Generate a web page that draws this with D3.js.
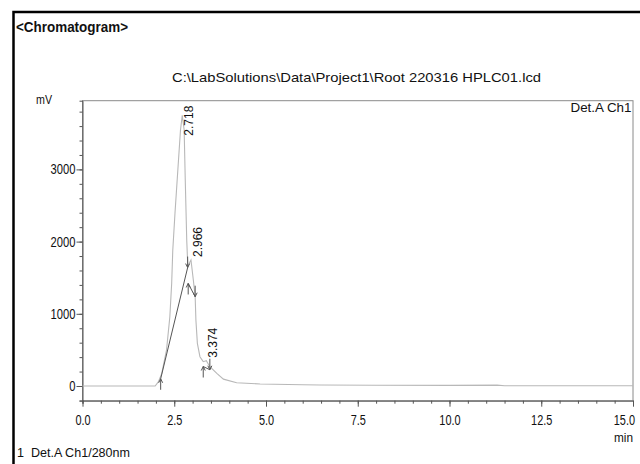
<!DOCTYPE html>
<html>
<head>
<meta charset="utf-8">
<script src="https://cdn.jsdelivr.net/npm/d3@7"></script>
<style>
  body { margin: 0; background: #fff; }
  text { font-family: "Liberation Sans", Arial, sans-serif; fill: #111; }
</style>
</head>
<body>
<div id="graph"></div>
<script>
// chromatogram trace (min, mV)
const times = [0, 1.0, 1.98, 2.07, 2.16, 2.29, 2.38, 2.43, 2.46, 2.52, 2.61, 2.67, 2.718,
  2.77, 2.80, 2.84, 2.87, 2.91, 2.956, 3.02, 3.07, 3.09, 3.13, 3.20, 3.29, 3.374,
  3.47, 3.66, 3.84, 4.2, 4.84, 6.0, 6.47, 8.0, 10.0, 11.3, 11.5, 13.0, 15.0];
const signal = [0, 0, 0, 60, 175, 500, 960, 1422, 1884, 2392, 3085, 3546, 3750,
  3546, 2853, 2022, 1652, 1700, 1745, 1468, 1237, 914, 591, 406, 337, 350,
  267, 175, 95, 45, 28, 18, 14, 10, 8, 12, 4, 3, 3];

// detected peaks
const peakTimes = [2.718, 2.966, 3.374];
const peakHeights = [3750, 1745, 350];
const peakLabels = ["2.718", "2.966", "3.374"];

// integration baselines: start / end of each peak
const startTimes = [2.13, 2.88, 3.29];
const startValues = [100, 1420, 270];
const endTimes = [2.865, 3.07, 3.47];
const endValues = [1640, 1237, 225];

const xTicks = [0, 2.5, 5, 7.5, 10, 12.5, 15];
const yTicks = [0, 1000, 2000, 3000];

const width = 640, height = 464;
const svg = d3.select("#graph").append("svg")
  .attr("width", width)
  .attr("height", height);

// squeeze text horizontally, the report font is a narrow one
function condense(sel, f) {
  sel.each(function() {
    const w = this.getComputedTextLength();
    d3.select(this).attr("textLength", w * f).attr("lengthAdjust", "spacingAndGlyphs");
  });
}
function fit(sel, w) {
  sel.attr("textLength", w).attr("lengthAdjust", "spacingAndGlyphs");
}

// outer frame (open to the right and bottom)
svg.append("path")
  .attr("d", "M13.5,464V12H640")
  .attr("fill", "none")
  .attr("stroke", "#000")
  .attr("stroke-width", 2.5);

svg.append("text")
  .attr("x", 16).attr("y", 32)
  .attr("font-size", 15.5)
  .attr("font-weight", "bold")
  .call(fit, 112)
  .text("<Chromatogram>");

svg.append("text")
  .attr("x", 172).attr("y", 82)
  .attr("font-size", 13.5)
  .call(fit, 369)
  .text("C:\\LabSolutions\\Data\\Project1\\Root 220316 HPLC01.lcd");

// scales
const x = d3.scaleLinear().domain([0, 15]).range([82.5, 633]);
const y = d3.scaleLinear().domain([-203.6, 3951.5]).range([400.7, 100.7]);

// plot frame
svg.append("rect")
  .attr("x", x(0)).attr("y", y.range()[1])
  .attr("width", x(15) - x(0))
  .attr("height", y.range()[0] - y.range()[1])
  .attr("fill", "none")
  .attr("stroke", "#8a8a8a")
  .attr("stroke-width", 1);

// y axis
const yMinor = d3.range(-200, 3900, 200);
svg.append("g")
  .attr("transform", "translate(" + x(0) + ",0)")
  .call(d3.axisLeft(y).tickValues(yMinor).tickSize(3).tickFormat(""))
  .call(g => g.select(".domain").attr("stroke", "#555"))
  .call(g => g.selectAll("line").attr("stroke", "#555"));
svg.append("g")
  .attr("transform", "translate(" + x(0) + ",0)")
  .call(d3.axisLeft(y).tickValues(yTicks).tickSize(6).tickPadding(1).tickFormat(d3.format("d")))
  .call(g => g.select(".domain").remove())
  .call(g => g.selectAll("line").attr("stroke", "#555"))
  .call(g => g.selectAll("text")
    .attr("font-family", "Liberation Sans, Arial, sans-serif")
    .attr("font-size", 14).attr("fill", "#111")
    .call(condense, 0.8));

// x axis
const xMinor = d3.range(0, 15.01, 0.5);
svg.append("g")
  .attr("transform", "translate(0," + y.range()[0] + ")")
  .call(d3.axisBottom(x).tickValues(xMinor).tickSize(3).tickFormat(""))
  .call(g => g.select(".domain").attr("stroke", "#555"))
  .call(g => g.selectAll("line").attr("stroke", "#555"));
svg.append("g")
  .attr("transform", "translate(0," + y.range()[0] + ")")
  .call(d3.axisBottom(x).tickValues(xTicks).tickSize(6).tickPadding(8).tickFormat(d3.format(".1f")))
  .call(g => g.select(".domain").remove())
  .call(g => g.selectAll("line").attr("stroke", "#555"))
  .call(g => g.selectAll("text")
    .attr("font-family", "Liberation Sans, Arial, sans-serif")
    .attr("font-size", 14).attr("fill", "#111")
    .call(condense, 0.78))
  // last label is pulled inside the plot edge
  .call(g => g.selectAll(".tick").filter(d => d === 15).select("text")
    .attr("text-anchor", "end").attr("x", 1.5));

// axis titles and legends
svg.append("text").attr("x", 36).attr("y", 104).attr("font-size", 13)
  .call(fit, 16).text("mV");
svg.append("text").attr("x", 633).attr("y", 442).attr("font-size", 13)
  .attr("text-anchor", "end").call(fit, 19).text("min");
svg.append("text").attr("x", x(15) - 1.5).attr("y", 112).attr("font-size", 13)
  .attr("text-anchor", "end").call(fit, 61).text("Det.A Ch1");
svg.append("text").attr("x", 17).attr("y", 457).attr("font-size", 13)
  .call(fit, 113).attr("xml:space", "preserve").text("1  Det.A Ch1/280nm");

// trace
const line = d3.line()
  .x((d, i) => x(times[i]))
  .y((d, i) => y(signal[i]));
svg.append("path")
  .datum(signal)
  .attr("d", line)
  .attr("fill", "none")
  .attr("stroke", "#b8b8b8")
  .attr("stroke-width", 1.1);

// integration baselines
const base = svg.append("g").attr("stroke", "#555").attr("fill", "none").attr("stroke-width", 1);
startTimes.forEach((t, i) => {
  base.append("line")
    .attr("x1", x(t)).attr("y1", y(startValues[i]))
    .attr("x2", x(endTimes[i])).attr("y2", y(endValues[i]));
});

// peak start (up) and end (down) arrows
function arrow(px, py, dir) {
  const tail = py + dir * 11;
  base.append("path")
    .attr("d", "M" + px + "," + tail + "L" + px + "," + py +
      "M" + (px - 2) + "," + (py + dir * 4) + "L" + px + "," + py +
      "L" + (px + 2) + "," + (py + dir * 4));
}
startTimes.forEach((t, i) => arrow(x(t), y(startValues[i]), 1));
endTimes.forEach((t, i) => arrow(x(t), y(endValues[i]), -1));

// peak retention-time labels
peakTimes.forEach((t, i) => {
  const lx = x(t) + 11;
  const ly = Math.max(y(peakHeights[i]) - 3, y.range()[1] + 35);
  svg.append("text")
    .attr("transform", "translate(" + lx + "," + ly + ") rotate(-90)")
    .attr("font-size", 12)
    .attr("fill", "#333")
    .call(fit, 30)
    .text(peakLabels[i]);
});
</script>
</body>
</html>
